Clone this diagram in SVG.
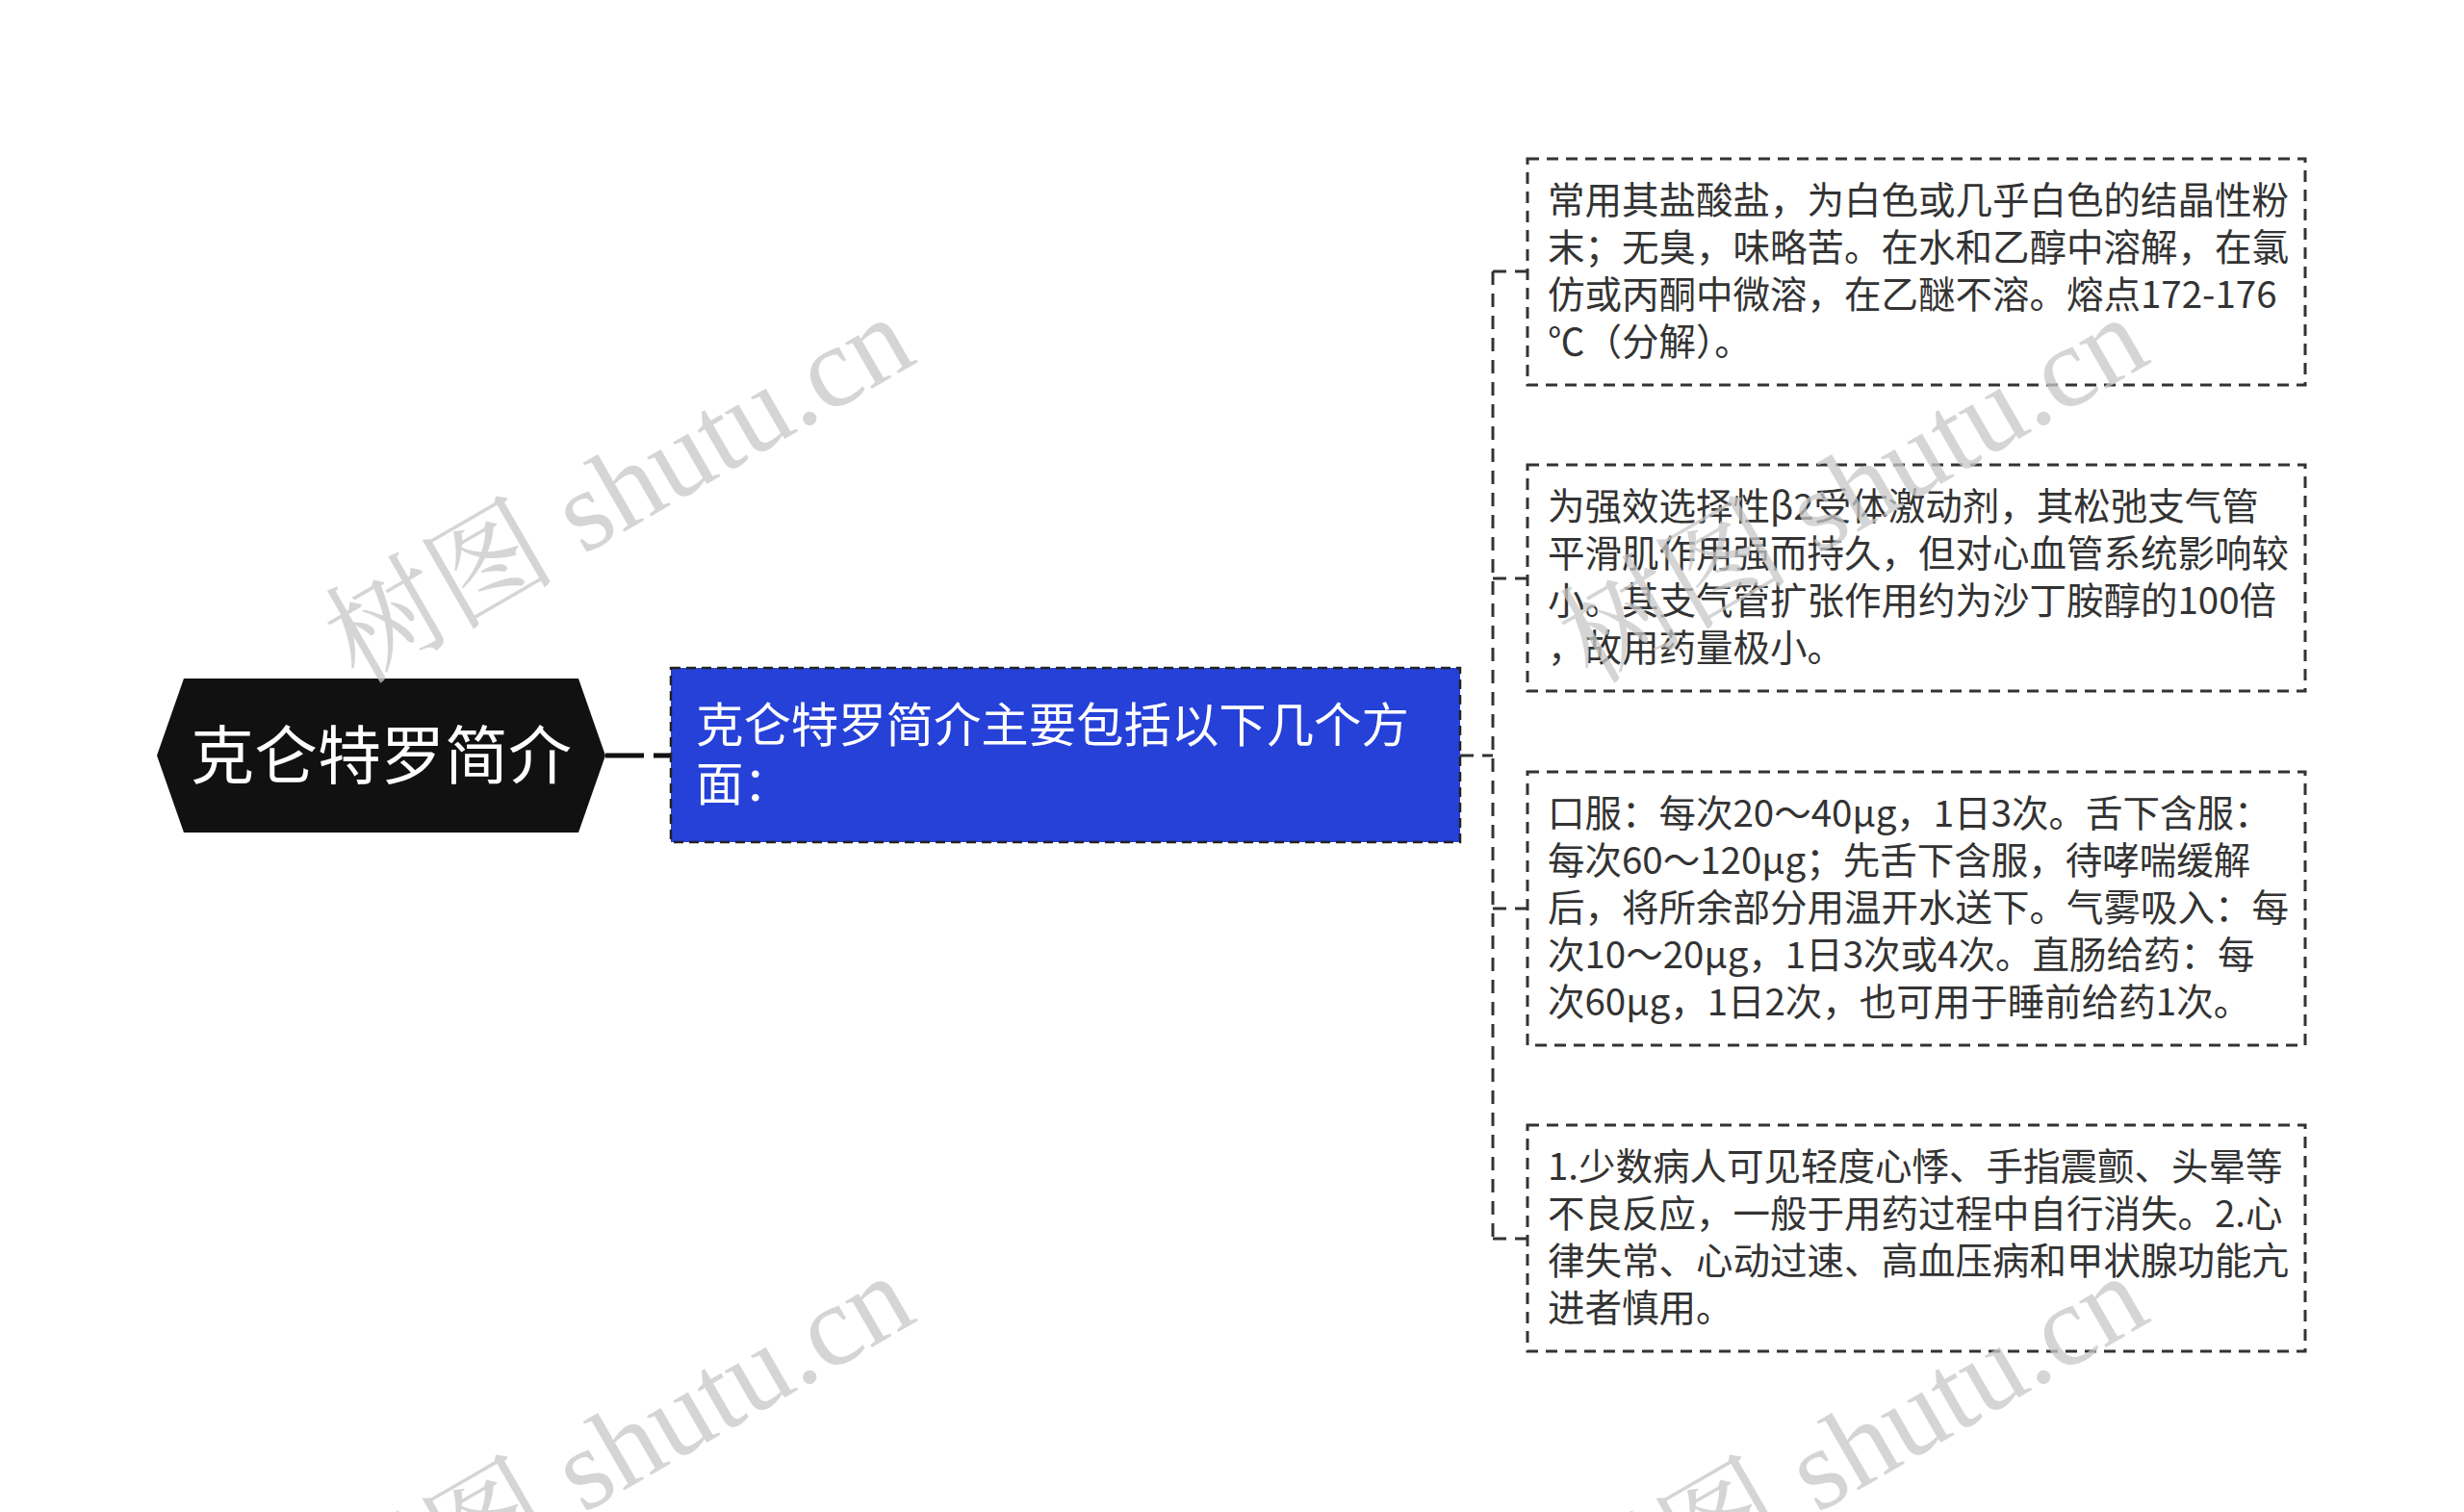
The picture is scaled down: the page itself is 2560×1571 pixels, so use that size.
<svg xmlns="http://www.w3.org/2000/svg" width="2560" height="1571" viewBox="0 0 2560 1571">
<style>
.t{font-family:"Noto Sans CJK SC","Noto Sans",sans-serif;font-size:38.5px;fill:#333}
.box{fill:#fff;stroke:#333;stroke-width:3;stroke-dasharray:12 8}
.con{fill:none;stroke:#333;stroke-width:3;stroke-dasharray:14 9}
.wm{font-family:"Liberation Serif","Noto Serif CJK SC","Noto Sans CJK SC",serif;font-size:120px;fill:#c8c8c8;opacity:0.75}
</style>
<rect width="2560" height="1571" fill="#fff"/>
<g id="connectors">
<path class="con" d="M629 785 H697" style="stroke:#111;stroke-width:5;stroke-dasharray:40 10"/>
<path class="con" d="M1517 785 H1551"/>
<path class="con" d="M1551 282 V1287"/>
<path class="con" d="M1551 282 H1587"/>
<path class="con" d="M1551 601 H1587"/>
<path class="con" d="M1551 944 H1587"/>
<path class="con" d="M1551 1287 H1587"/>
</g>
<g id="root">
<polygon points="163,785 191,705 601,705 629,785 601,865 191,865" fill="#111"/>
<text x="396" y="809" text-anchor="middle" style="font-family:'Noto Sans CJK SC',sans-serif;font-size:66px;fill:#fff">克仑特罗简介</text>
</g>
<g id="main">
<rect x="697" y="694" width="820" height="181" fill="#2541d8" stroke="#222" stroke-width="2.5" stroke-dasharray="10 6"/>
<text x="723" y="771" style="font-family:'Noto Sans CJK SC',sans-serif;font-size:49.4px;fill:#fff">克仑特罗简介主要包括以下几个方</text>
<text x="723" y="832" style="font-family:'Noto Sans CJK SC',sans-serif;font-size:49.4px;fill:#fff">面：</text>
</g>
<g id="n1">
<rect class="box" x="1587" y="165" width="808" height="235"/>
<text class="t" x="1608" y="222">常用其盐酸盐，为白色或几乎白色的结晶性粉</text>
<text class="t" x="1608" y="271">末；无臭，味略苦。在水和乙醇中溶解，在氯</text>
<text class="t" x="1608" y="320">仿或丙酮中微溶，在乙醚不溶。熔点172-176</text>
<text class="t" x="1608" y="369">℃（分解）。</text>
</g>
<g id="n2">
<rect class="box" x="1587" y="483" width="808" height="235"/>
<text class="t" x="1608" y="540">为强效选择性β2受体激动剂，其松弛支气管</text>
<text class="t" x="1608" y="589">平滑肌作用强而持久，但对心血管系统影响较</text>
<text class="t" x="1608" y="638">小。其支气管扩张作用约为沙丁胺醇的100倍</text>
<text class="t" x="1608" y="687">，故用药量极小。</text>
</g>
<g id="n3">
<rect class="box" x="1587" y="802" width="808" height="284"/>
<text class="t" x="1608" y="859">口服：每次20～40μg，1日3次。舌下含服：</text>
<text class="t" x="1608" y="908">每次60～120μg；先舌下含服，待哮喘缓解</text>
<text class="t" x="1608" y="957">后，将所余部分用温开水送下。气雾吸入：每</text>
<text class="t" x="1608" y="1006">次10～20μg，1日3次或4次。直肠给药：每</text>
<text class="t" x="1608" y="1055">次60μg，1日2次，也可用于睡前给药1次。</text>
</g>
<g id="n4">
<rect class="box" x="1587" y="1169" width="808" height="235"/>
<text class="t" x="1608" y="1226">1.少数病人可见轻度心悸、手指震颤、头晕等</text>
<text class="t" x="1608" y="1275">不良反应，一般于用药过程中自行消失。2.心</text>
<text class="t" x="1608" y="1324">律失常、心动过速、高血压病和甲状腺功能亢</text>
<text class="t" x="1608" y="1373">进者慎用。</text>
</g>
<g id="watermarks">
<text class="wm" transform="translate(372,712) rotate(-30)">树图 shutu.cn</text>
<text class="wm" transform="translate(1654,712) rotate(-30)">树图 shutu.cn</text>
<text class="wm" transform="translate(372,1708) rotate(-30)">树图 shutu.cn</text>
<text class="wm" transform="translate(1654,1708) rotate(-30)">树图 shutu.cn</text>
</g>
</svg>
